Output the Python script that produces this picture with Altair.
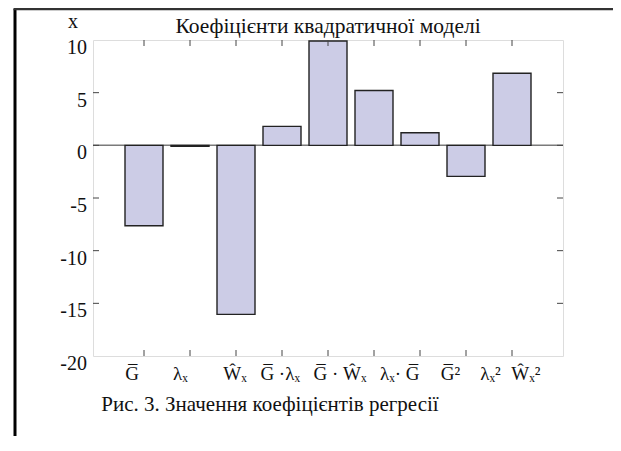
import altair as alt
import pandas as pd

# data
categories = ["G\u0305", "\u03bb\u2093", "\u0174\u2093", "G\u0305 \u00b7\u03bb\u2093", "G\u0305 \u00b7 \u0174\u2093",
              "\u03bb\u2093\u00b7 G\u0305", "G\u0305\u00b2", "\u03bb\u2093\u00b2", "\u0174\u2093\u00b2"]
positions = [1, 2, 3, 4, 5, 6, 7, 8, 9]
label_anchor = [0.74, 1.79, 2.98, 3.96, 5.26, 6.56, 7.66, 8.53, 9.3]
values = [-7.63, -0.1, -16.05, 1.8, 9.9, 5.2, 1.2, -2.95, 6.85]
y_ticks = [-15, -10, -5, 0, 5]
y_labels = [-20, -15, -10, -5, 0, 5, 10]
title_text = "Коефіцієнти квадратичної моделі"
caption_text = "Рис. 3. Значення коефіцієнтів регресії"
y_title = "x"

FONT = "'Liberation Serif', 'Times New Roman', 'DejaVu Serif', serif"
W, H = 470, 316
PL, PT, PR, PB = 85, 32, 50, 80

bars_df = pd.DataFrame({"pos": positions, "value": values, "cat": categories, "lab": label_anchor})
yt_df = pd.DataFrame({"value": y_ticks})
yl_df = pd.DataFrame({"value": y_labels, "label": [str(v) for v in y_labels]})
xt_df = pd.DataFrame({"pos": positions})
one_df = pd.DataFrame({"k": [0]})

xscale = alt.Scale(domain=[0, 10], nice=False, zero=False)
yscale = alt.Scale(domain=[-20, 10], nice=False)

zero = alt.Chart(one_df).transform_calculate(z="0").mark_rule(color="#7a7a7a", strokeWidth=1.5).encode(
    y=alt.Y("z:Q", scale=yscale, axis=None))

bars = alt.Chart(bars_df).mark_bar(size=38, fill="#CCCCE6", stroke="#222222", strokeWidth=1.4).encode(
    x=alt.X("pos:Q", scale=xscale, axis=None),
    y=alt.Y("value:Q", scale=yscale, axis=None),
)

tick_color = "#444444"
yl = alt.Chart(yt_df).mark_rule(color=tick_color, strokeWidth=1).encode(
    y=alt.Y("value:Q", scale=yscale, axis=None), x=alt.value(0), x2=alt.value(6))
yr = alt.Chart(yt_df).mark_rule(color=tick_color, strokeWidth=1).encode(
    y=alt.Y("value:Q", scale=yscale, axis=None), x=alt.value(W - 6), x2=alt.value(W))
xtop = alt.Chart(xt_df).mark_rule(color=tick_color, strokeWidth=1).encode(
    x=alt.X("pos:Q", scale=xscale, axis=None), y=alt.value(0), y2=alt.value(6))
xbot = alt.Chart(xt_df).mark_rule(color=tick_color, strokeWidth=1).encode(
    x=alt.X("pos:Q", scale=xscale, axis=None), y=alt.value(H - 6), y2=alt.value(H))

ylab = alt.Chart(yl_df).mark_text(font=FONT, fontSize=20, align="right", baseline="middle", dy=8,
                                  color="#111").encode(
    y=alt.Y("value:Q", scale=yscale, axis=None), x=alt.value(-6), text="label:N")
xlab = alt.Chart(bars_df).mark_text(font=FONT, fontSize=19, align="center", baseline="top",
                                    color="#111").encode(
    x=alt.X("lab:Q", scale=xscale, axis=None), y=alt.value(H + 9), text="cat:N")

ttl = alt.Chart(one_df).mark_text(font=FONT, fontSize=21.5, align="center", baseline="alphabetic",
                                  color="#111").encode(
    x=alt.value(W / 2), y=alt.value(-7), text=alt.value(title_text))
ytl = alt.Chart(one_df).mark_text(font=FONT, fontSize=20, align="center", baseline="alphabetic",
                                  color="#111").encode(
    x=alt.value(-20), y=alt.value(-12), text=alt.value(y_title))
cap = alt.Chart(one_df).mark_text(font=FONT, fontSize=21, align="center", baseline="alphabetic",
                                  color="#111").encode(
    x=alt.value(177), y=alt.value(H + 55), text=alt.value(caption_text))

border_left = alt.Chart(one_df).mark_rule(color="#000", strokeWidth=3).encode(
    x=alt.value(-78), y=alt.value(-31), y2=alt.value(H + PB))
border_top = alt.Chart(one_df).mark_rule(color="#333", strokeWidth=2.5).encode(
    x=alt.value(-79.5), x2=alt.value(W + PR), y=alt.value(-31))

chart = alt.layer(zero, bars, yl, yr, xtop, xbot, ylab, xlab, ttl, ytl, cap, border_left, border_top).properties(
    width=W, height=H,
    autosize=alt.AutoSizeParams(type="none"),
    padding={"left": PL, "top": PT, "right": PR, "bottom": PB},
).configure_view(stroke="#444444", strokeWidth=1.2).configure(background="white")

chart.save("out.html", embed_options={"renderer": "svg", "actions": False})
